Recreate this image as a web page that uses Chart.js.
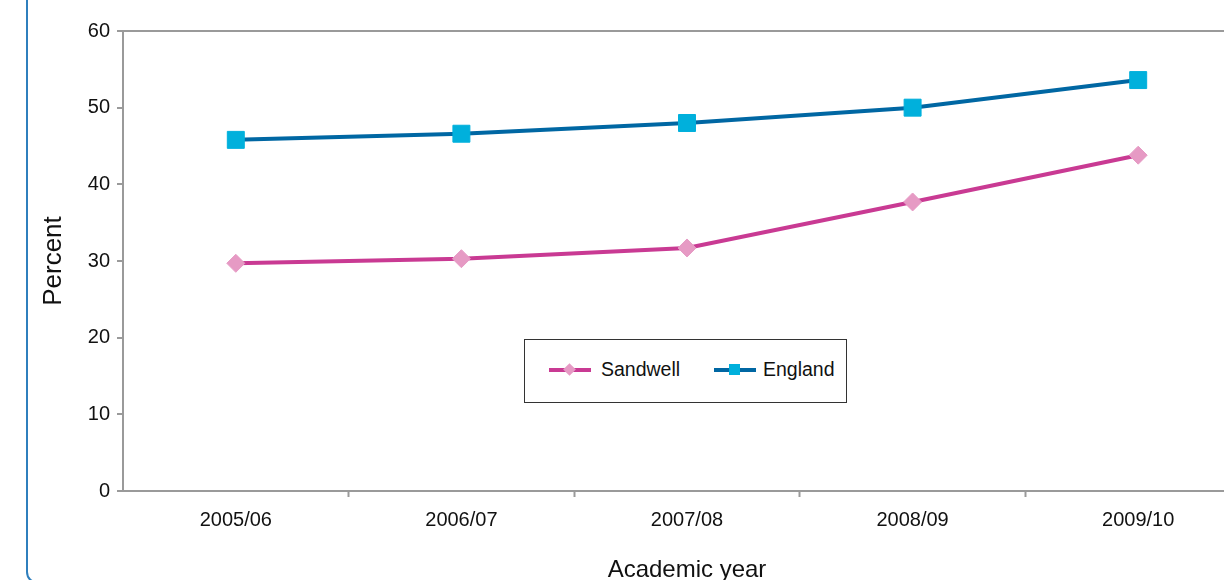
<!DOCTYPE html>
<html>
<head>
<meta charset="utf-8">
<title>Academic year percentages</title>
<script src="https://cdn.jsdelivr.net/npm/chart.js@4/dist/chart.umd.min.js"></script>
<style>
    html, body {
        margin: 0;
        padding: 0;
        background: #fff;
        overflow: hidden;
        width: 1224px;
        height: 580px;
    }
    #frame {
        position: absolute;
        left: 26px;
        top: -20px;
        width: 1400px;
        height: 604px;
        box-sizing: border-box;
        border: 2.5px solid #2f7fbd;
        border-radius: 12px;
    }
    #chart {
        position: absolute;
        left: 0;
        top: 0;
    }
    #legend {
        position: absolute;
        left: 524px;
        top: 339px;
        width: 323px;
        height: 64px;
        box-sizing: border-box;
        border: 1px solid #333;
        background: #fff;
        font-family: "Liberation Sans", Arial, sans-serif;
        font-size: 19.5px;
        color: #111;
    }
    .item {
        position: absolute;
        top: 0;
        height: 62px;
    }
    .sample {
        position: absolute;
        top: 28px;
        width: 42px;
        height: 4px;
    }
    .marker {
        position: absolute;
    }
    .label {
        position: absolute;
        top: 18px;
        white-space: nowrap;
    }
</style>
</head>
<body>
<div id="frame"></div>
<canvas id="chart" width="1264" height="589"></canvas>
<div id="legend"></div>

<script>
    var years = ['2005/06', '2006/07', '2007/08', '2008/09', '2009/10'];
    var sandwell = [29.7, 30.3, 31.7, 37.7, 43.8];
    var england = [45.8, 46.6, 48.0, 50.0, 53.6];
    var yMin = 0;
    var yMax = 60;
    var yStep = 10;

    var axisGrey = '#9a9a9a';
    var font = "'Liberation Sans', Arial, sans-serif";

    // legend offsets inside the box, one per dataset
    var legendPlaces = [24, 189];

    function buildLegend(chart) {
        var box = document.getElementById('legend');
        box.innerHTML = '';
        chart.data.datasets.forEach(function (ds, i) {
            var item = document.createElement('div');
            item.className = 'item';
            item.style.left = legendPlaces[i] + 'px';

            var line = document.createElement('span');
            line.className = 'sample';
            line.style.left = '0px';
            line.style.background = ds.borderColor;
            item.appendChild(line);

            var mk = document.createElement('span');
            mk.className = 'marker';
            mk.style.background = ds.pointBackgroundColor;
            if (ds.pointStyle === 'rectRot') {
                mk.style.width = '9px';
                mk.style.height = '9px';
                mk.style.left = '16px';
                mk.style.top = '25px';
                mk.style.transform = 'rotate(45deg)';
            } else {
                mk.style.width = '11px';
                mk.style.height = '11px';
                mk.style.left = '15px';
                mk.style.top = '24px';
            }
            item.appendChild(mk);

            var txt = document.createElement('span');
            txt.className = 'label';
            txt.style.left = (ds.pointStyle === 'rectRot' ? 52 : 49) + 'px';
            txt.textContent = ds.label;
            item.appendChild(txt);

            box.appendChild(item);
        });
    }

    var ctx = document.getElementById('chart').getContext('2d');
    var chart = new Chart(ctx, {
        type: 'line',
        data: {
            labels: years,
            datasets: [{
                label: 'Sandwell',
                data: sandwell,
                borderColor: '#c93a93',
                borderWidth: 4,
                pointStyle: 'rectRot',
                pointRadius: 9,
                pointBackgroundColor: '#e69ac4',
                pointBorderColor: '#e69ac4',
                pointBorderWidth: 1,
                tension: 0
            }, {
                label: 'England',
                data: england,
                borderColor: '#0067a3',
                borderWidth: 4,
                pointStyle: 'rect',
                pointRadius: 12,
                pointBackgroundColor: '#00b0dc',
                pointBorderColor: '#00b0dc',
                pointBorderWidth: 1,
                tension: 0
            }]
        },
        options: {
            responsive: false,
            animation: false,
            devicePixelRatio: 1,
            layout: {
                padding: { left: 34, top: 31, right: 0, bottom: 0 }
            },
            plugins: {
                legend: { display: false },
                tooltip: { enabled: false }
            },
            scales: {
                x: {
                    offset: true,
                    border: { color: axisGrey, width: 2 },
                    grid: {
                        offset: true,
                        color: 'transparent',
                        tickLength: 6,
                        tickWidth: 2,
                        tickColor: function (c) {
                            return c.index === 0 ? 'transparent' : axisGrey;
                        }
                    },
                    ticks: {
                        color: '#111',
                        padding: 11,
                        maxRotation: 0,
                        font: { family: font, size: 20 }
                    },
                    title: {
                        display: true,
                        text: 'Academic year',
                        color: '#111',
                        padding: { top: 4, bottom: 4 },
                        font: { family: font, size: 24 }
                    },
                    afterFit: function (scale) {
                        scale.height = 98;
                    }
                },
                y: {
                    min: yMin,
                    max: yMax,
                    border: { color: axisGrey, width: 2 },
                    grid: {
                        color: function (c) {
                            return c.tick && c.tick.value === yMax ? axisGrey : 'transparent';
                        },
                        lineWidth: 2,
                        tickLength: 6,
                        tickWidth: 2,
                        tickColor: axisGrey
                    },
                    ticks: {
                        stepSize: yStep,
                        color: '#111',
                        padding: 7,
                        font: { family: font, size: 20 }
                    },
                    title: {
                        display: true,
                        text: 'Percent',
                        color: '#111',
                        padding: { top: 4, bottom: 4 },
                        font: { family: font, size: 26 }
                    },
                    afterFit: function (scale) {
                        scale.width = 89;
                    }
                }
            }
        }
    });

    buildLegend(chart);
</script>
</body>
</html>
